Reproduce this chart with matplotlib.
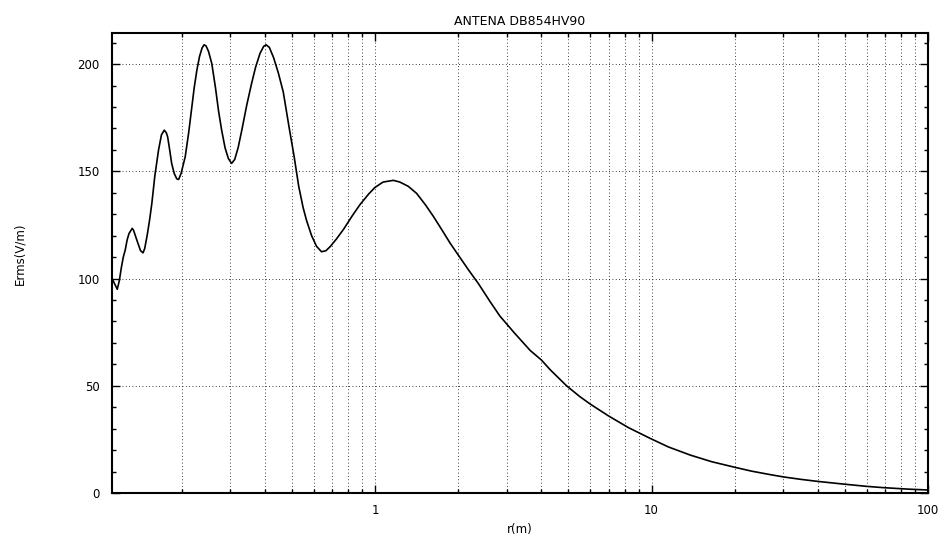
import numpy as np
import matplotlib
matplotlib.use('Agg')
import matplotlib.pyplot as plt
from matplotlib.ticker import LogLocator, FuncFormatter, MultipleLocator

# distance r (m) and field strength Erms (V/m)
r = [0.112, 0.114, 0.117, 0.119, 0.121, 0.123, 0.125, 0.127, 0.129, 0.1325,
     0.134, 0.136, 0.139, 0.142, 0.145, 0.147, 0.150, 0.153, 0.156, 0.160,
     0.165, 0.169, 0.173, 0.176, 0.178, 0.181, 0.184, 0.188, 0.192, 0.195,
     0.199, 0.206, 0.212, 0.217, 0.222, 0.227, 0.232, 0.237, 0.241, 0.245,
     0.250, 0.257, 0.265, 0.272, 0.279, 0.287, 0.295, 0.303, 0.311, 0.320,
     0.330, 0.344, 0.358, 0.370, 0.384, 0.396, 0.404, 0.415, 0.430, 0.447,
     0.466, 0.49, 0.51, 0.53, 0.55, 0.566, 0.59, 0.615, 0.641, 0.665,
     0.69, 0.726, 0.77, 0.83, 0.883, 0.95, 1.0, 1.07, 1.165, 1.23,
     1.32, 1.415, 1.52, 1.63, 1.75, 1.87, 2.0, 2.18, 2.37, 2.6,
     2.83, 3.2, 3.64, 4.0, 4.30, 4.93, 5.5, 6.0, 6.98, 8.25,
     9.88, 11.5, 13.8, 16.5, 20, 23, 26.8, 30, 35, 40,
     50, 60, 69, 85, 100]
erms = [100, 98, 95, 99, 105, 110, 113.3, 118, 121, 123.4,
        122.5, 120, 116.4, 113, 112, 114, 120, 127, 135, 148,
        160, 167, 169.2, 168, 166, 160, 153.7, 149, 146.5, 146.2,
        149, 156.8, 168, 178.6, 189, 197.2, 203.5, 207.5, 209, 208.5,
        206, 200.3, 189, 178, 169.2, 161, 156, 153.7, 155.5, 161,
        169.2, 181, 191, 198.5, 205, 208.3, 209, 207.8, 203, 196,
        187, 170, 157, 143, 133, 127, 120, 115, 112.5, 113,
        115, 118.5, 123, 129.5, 134.5, 139.5, 142.5, 145, 145.8, 145,
        143, 139.7, 134.5, 128.8, 122.5, 116.5, 111, 104, 97.5, 89.5,
        82.5, 74.5, 66.5, 62, 57.5, 50, 45, 41.5, 36, 30.5,
        25.5, 21.5, 17.7, 14.6, 12, 10.2, 8.6, 7.5, 6.3, 5.4,
        4.1, 3.1, 2.5, 1.8, 1.4]

yticks = [0, 50, 100, 150, 200]

fig = plt.figure(figsize=(9.47, 5.36), dpi=100)
ax = fig.add_axes([0.1183, 0.0802, 0.8617, 0.8582])

ax.plot(r, erms, color='k', linewidth=1.2)

ax.set_xscale('log')
ax.set_xlim(0.112, 100)
ax.set_ylim(0, 214.5)
ax.set_yticks(yticks)
ax.yaxis.set_minor_locator(MultipleLocator(10))
ax.xaxis.set_major_locator(LogLocator(base=10))
ax.xaxis.set_minor_locator(LogLocator(base=10, subs=np.arange(2, 10)))
ax.xaxis.set_major_formatter(FuncFormatter(lambda v, p: '%g' % v))
ax.xaxis.set_minor_formatter(FuncFormatter(lambda v, p: ''))

# dotted grid like the original print
ax.grid(True, which='major', axis='both', color='k', linestyle=(0, (1, 3)), linewidth=0.6)
ax.grid(True, which='minor', axis='x', color='k', linestyle=(0, (1, 3)), linewidth=0.6)

ax.tick_params(which='both', direction='in', top=True, right=True, labelsize=8.5, width=1)
ax.tick_params(which='major', length=6)
ax.tick_params(which='minor', length=3)
ax.tick_params(axis='y', pad=9)
ax.tick_params(axis='x', pad=8)
for s in ax.spines.values():
    s.set_linewidth(1.5)

ax.set_title('ANTENA DB854HV90', fontsize=9, pad=6)
ax.set_xlabel('r(m)', fontsize=8.5, labelpad=4)
ax.set_ylabel('Erms(V/m)', fontsize=8.5)
ax.yaxis.set_label_coords(-0.105, 0.52)

plt.savefig('out.png', dpi=100)
